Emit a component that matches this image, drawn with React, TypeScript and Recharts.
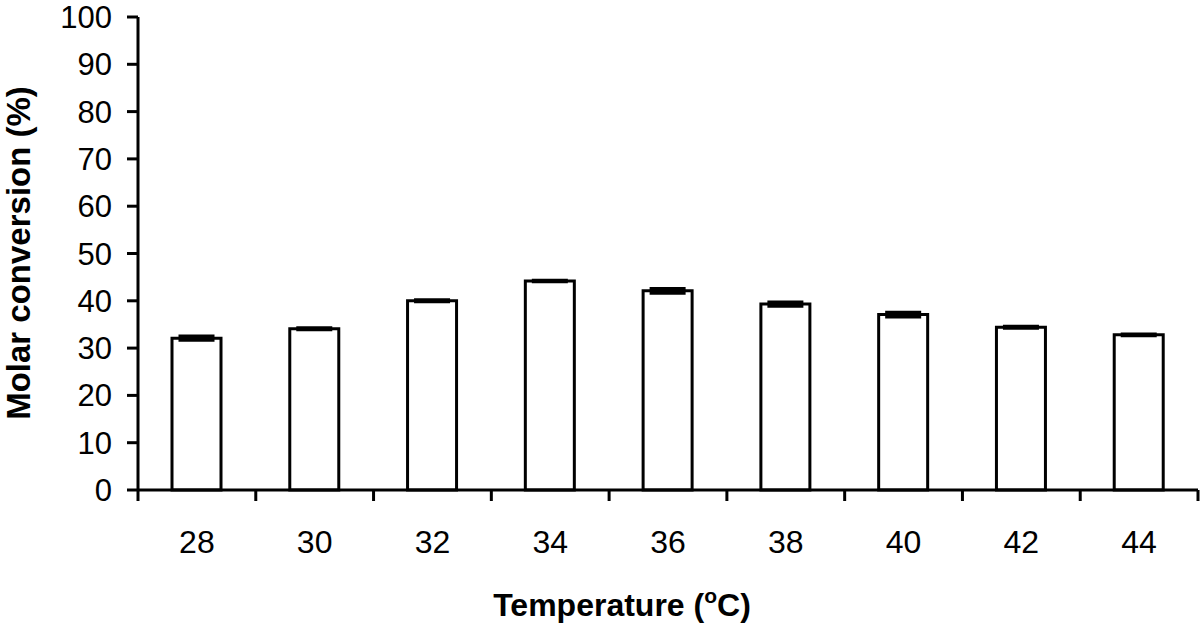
import { BarChart, Bar, XAxis, YAxis, ErrorBar } from 'recharts';

const temperatures = ['28', '30', '32', '34', '36', '38', '40', '42', '44'];
const conversion = [32.1, 34.1, 40.0, 44.2, 42.1, 39.3, 37.1, 34.4, 32.8];
const conversionError = [0.45, 0.2, 0.2, 0.15, 0.5, 0.45, 0.5, 0.2, 0.2];
const yTicks = [0, 10, 20, 30, 40, 50, 60, 70, 80, 90, 100];

const data = temperatures.map((temp, i) => ({
  temp,
  conversion: conversion[i],
  error: conversionError[i],
}));

const FONT = '"Liberation Sans", Arial, sans-serif';
const INK = '#000';
const CHART_W = 1200;
const CHART_H = 625;
const MARGIN = { top: 17, right: 2, left: 0, bottom: 0 };
const Y_AXIS_W = 138;
// width of one category band, used to put the x tick marks between the bars
const BAND = (CHART_W - MARGIN.right - Y_AXIS_W) / temperatures.length;

function CategoryTick(props: any) {
  const { x, y, payload, index } = props;
  const left = x - BAND / 2;
  const right = x + BAND / 2;
  return (
    <g>
      <line x1={left} x2={left} y1={y} y2={y + 11} stroke={INK} strokeWidth={3} />
      {index === temperatures.length - 1 && (
        <line x1={right} x2={right} y1={y} y2={y + 11} stroke={INK} strokeWidth={3} />
      )}
      <text
        x={x}
        y={y + 40}
        dy="0.71em"
        textAnchor="middle"
        fontFamily={FONT}
        fontSize={32}
        fill={INK}
      >
        {payload.value}
      </text>
    </g>
  );
}

function YTitle() {
  return (
    <text
      x={30}
      y={253}
      transform="rotate(-90 30 253)"
      textAnchor="middle"
      fontFamily={FONT}
      fontWeight="bold"
      fontSize={33}
      fill={INK}
    >
      Molar conversion (%)
    </text>
  );
}

function XTitle() {
  return (
    <text
      x={622}
      y={616}
      textAnchor="middle"
      fontFamily={FONT}
      fontWeight="bold"
      fontSize={32}
      fill={INK}
    >
      Temperature (
      <tspan dy={-13} fontSize={21}>o</tspan>
      <tspan dy={13}>C)</tspan>
    </text>
  );
}

export default function App() {
  return (
    <div style={{ position: 'absolute', left: 0, top: 0, width: CHART_W, height: CHART_H, background: '#fff' }}>
      <BarChart width={CHART_W} height={CHART_H} data={data} margin={MARGIN}>
        <XAxis
          dataKey="temp"
          height={135}
          tickLine={false}
          tickSize={0}
          tickMargin={0}
          axisLine={{ stroke: INK, strokeWidth: 3 }}
          tick={<CategoryTick />}
          interval={0}
          label={{ content: () => <XTitle /> }}
        />
        <YAxis
          width={Y_AXIS_W}
          domain={[0, 100]}
          ticks={yTicks}
          interval={0}
          tickSize={11}
          tickMargin={15}
          axisLine={{ stroke: INK, strokeWidth: 3 }}
          tickLine={{ stroke: INK, strokeWidth: 3 }}
          tick={{ fill: INK, fontSize: 31, fontFamily: FONT }}
          label={{ content: () => <YTitle /> }}
        />
        <Bar
          dataKey="conversion"
          barSize={49}
          fill="#fff"
          stroke={INK}
          strokeWidth={3}
          isAnimationActive={false}
        >
          <ErrorBar
            dataKey="error"
            width={18}
            stroke={INK}
            strokeWidth={3}
            direction="y"
            isAnimationActive={false}
          />
        </Bar>
      </BarChart>
    </div>
  );
}
